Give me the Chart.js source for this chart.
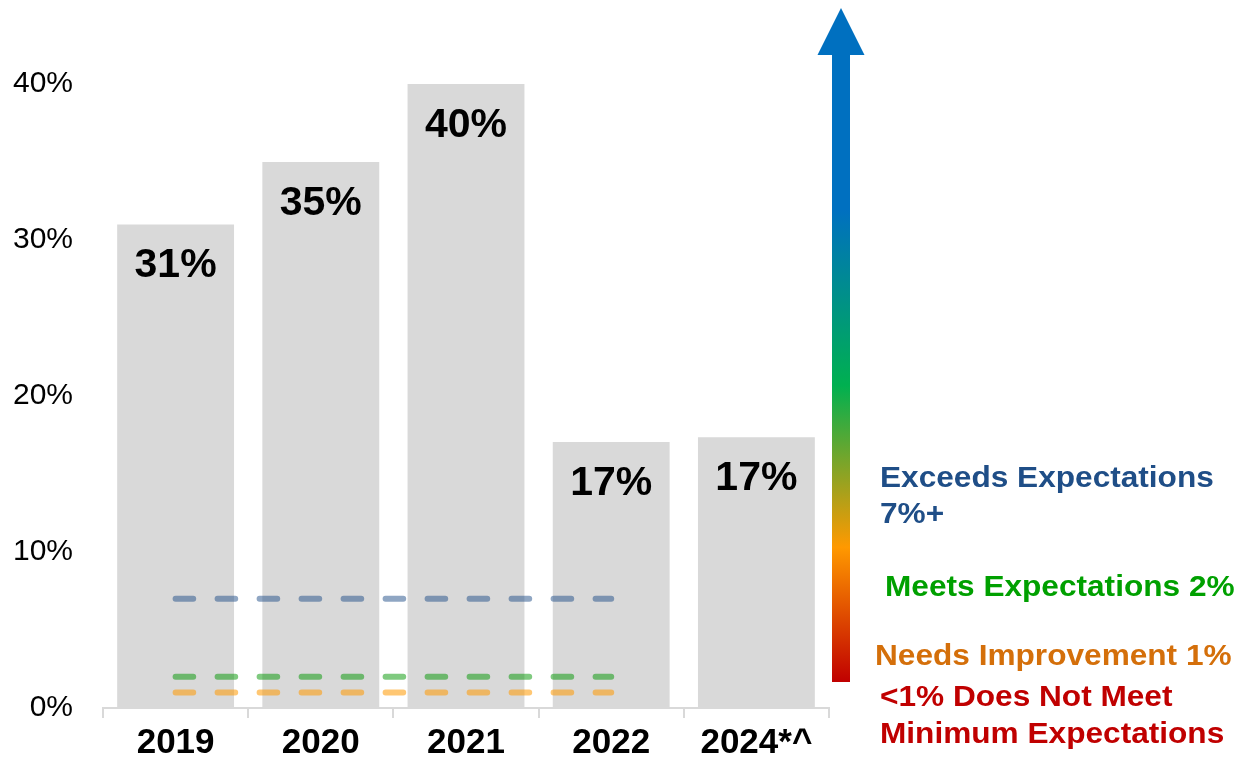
<!DOCTYPE html>
<html>
<head>
<meta charset="utf-8">
<script src="https://cdn.jsdelivr.net/npm/chart.js@4"></script>
<style>
  html, body { margin: 0; padding: 0; background: #fff; }
  #wrap { width: 1247px; height: 759px; position: relative; }
</style>
</head>
<body>
<div id="wrap"><canvas id="chart"></canvas></div>
<script>
// values
const years = ['2019', '2020', '2021', '2022', '2024*^'];
const rates = [31, 35, 40, 17.05, 17.35];
const rateLabels = ['31%', '35%', '40%', '17%', '17%'];
const exceedsLine = [7, 7, 7, 7, null];
const meetsLine = [2, 2, 2, 2, null];
const needsLine = [1, 1, 1, 1, null];
const yTicks = [0, 10, 20, 30, 40];

const FONT = '"Liberation Sans", Arial, sans-serif';

// bar value labels, inside the top of each bar
const barLabels = {
  id: 'barLabels',
  afterDatasetsDraw(chart) {
    const ctx = chart.ctx;
    const meta = chart.getDatasetMeta(0);
    ctx.save();
    ctx.font = 'bold 41px ' + FONT;
    ctx.fillStyle = '#000';
    ctx.textAlign = 'center';
    ctx.textBaseline = 'alphabetic';
    meta.data.forEach((bar, i) => {
      ctx.fillText(rateLabels[i], bar.x, bar.y + 53);
    });
    ctx.restore();
  }
};

// gradient arrow + rating text on the right
const sideNotes = {
  id: 'sideNotes',
  afterDraw(chart) {
    const ctx = chart.ctx;
    const a = chart.chartArea;
    const cx = a.right + 12;
    const top = 8, headBase = 55, bottom = 682;
    ctx.save();
    const g = ctx.createLinearGradient(0, top, 0, bottom);
    g.addColorStop(0, '#0070c0');
    g.addColorStop(0.3, '#0070c0');
    g.addColorStop(0.56, '#00b050');
    g.addColorStop(0.8, '#ff9900');
    g.addColorStop(1, '#c00000');
    ctx.fillStyle = g;
    ctx.beginPath();
    ctx.moveTo(cx, top);
    ctx.lineTo(cx + 23.5, headBase);
    ctx.lineTo(cx + 9, headBase);
    ctx.lineTo(cx + 9, bottom);
    ctx.lineTo(cx - 9, bottom);
    ctx.lineTo(cx - 9, headBase);
    ctx.lineTo(cx - 23.5, headBase);
    ctx.closePath();
    ctx.fill();

    ctx.font = 'bold 29px ' + FONT;
    ctx.textAlign = 'left';
    ctx.textBaseline = 'alphabetic';
    const notes = [
      ['Exceeds Expectations', '#1f4e87', 880, 487],
      ['7%+', '#1f4e87', 880, 523],
      ['Meets Expectations 2%', '#00a000', 885, 596],
      ['Needs Improvement 1%', '#d46f0a', 875, 665],
      ['<1% Does Not Meet', '#c00000', 880, 706],
      ['Minimum Expectations', '#c00000', 880, 743]
    ];
    const stretch = 1.09; // the original text is a little wider than Arial
    notes.forEach(n => {
      ctx.save();
      ctx.translate(n[2], n[3]);
      ctx.scale(stretch, 1);
      ctx.fillStyle = n[1];
      ctx.fillText(n[0], 0, 0);
      ctx.restore();
    });
    ctx.restore();
  }
};

const dashStyle = {
  type: 'line',
  borderWidth: 6,
  borderDash: [17.6, 24.4],
  borderCapStyle: 'round',
  pointRadius: 0,
  fill: false,
  spanGaps: false
};

new Chart(document.getElementById('chart'), {
  data: {
    labels: years,
    datasets: [
      {
        type: 'bar',
        data: rates,
        backgroundColor: '#d9d9d9',
        barPercentage: 0.805,
        categoryPercentage: 1,
        order: 2
      },
      Object.assign({}, dashStyle, { data: exceedsLine, borderColor: 'rgba(31,78,135,0.5)', order: 1 }),
      Object.assign({}, dashStyle, { data: meetsLine, borderColor: 'rgba(0,150,0,0.5)', order: 1 }),
      Object.assign({}, dashStyle, { data: needsLine, borderColor: 'rgba(255,153,0,0.55)', order: 1 })
    ]
  },
  options: {
    responsive: true,
    maintainAspectRatio: false,
    animation: false,
    layout: { padding: { top: 84, right: 418, left: 0, bottom: 0 } },
    plugins: {
      legend: { display: false },
      tooltip: { enabled: false }
    },
    scales: {
      x: {
        grid: {
          offset: true,
          drawOnChartArea: false,
          color: '#d9d9d9',
          lineWidth: 2,
          tickLength: 10
        },
        border: { color: '#d9d9d9', width: 2 },
        ticks: {
          color: '#000',
          font: { family: FONT, size: 35, weight: 'bold' },
          padding: 4
        },
        afterFit(scale) { scale.height = 51; }
      },
      y: {
        min: 0,
        max: 40,
        afterBuildTicks(scale) { scale.ticks = yTicks.map(v => ({ value: v })); },
        grid: { display: false },
        border: { display: false },
        ticks: {
          color: '#000',
          font: { family: FONT, size: 30 },
          padding: 22,
          callback: v => v + '%'
        },
        afterFit(scale) { scale.width = 103; }
      }
    }
  },
  plugins: [barLabels, sideNotes]
});
</script>
</body>
</html>
